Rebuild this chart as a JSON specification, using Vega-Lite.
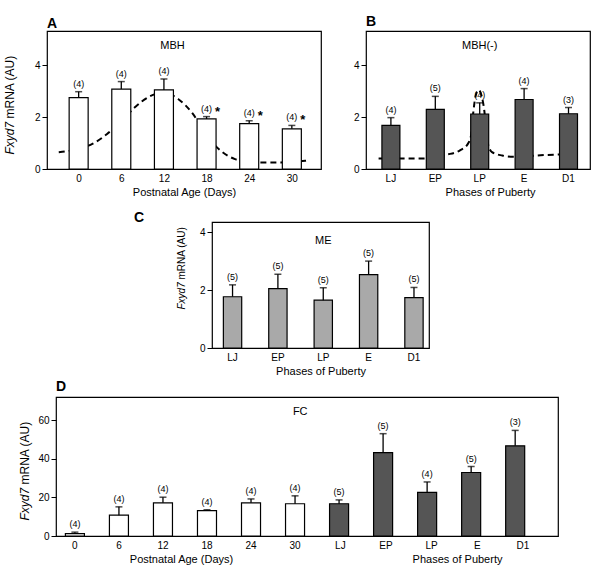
{
 "$schema": "https://vega.github.io/schema/vega-lite/v6.json",
 "padding": {"left": 0, "top": 14, "right": 5, "bottom": 5},
 "config": {
  "font": "Liberation Sans",
  "view": {"stroke": "#000", "strokeWidth": 1.2},
  "axis": {"labelFontSize": 10, "titleFontSize": 11, "titleFontWeight": "normal", "labelColor": "#000", "titleColor": "#000", "tickColor": "#000", "domain": false, "grid": false, "tickSize": 5, "tickWidth": 1},
  "title": {"fontSize": 14, "fontWeight": "bold", "anchor": "start", "frame": "group", "color": "#000", "offset": 3},
  "text": {"color": "#000"}
 },
 "datasets": {
  "aBars": [
   {"day": 0, "mean": 2.75, "err": 2.98, "n": "(4)", "star": ""},
   {"day": 6, "mean": 3.08, "err": 3.37, "n": "(4)", "star": ""},
   {"day": 12, "mean": 3.05, "err": 3.47, "n": "(4)", "star": ""},
   {"day": 18, "mean": 1.93, "err": 2.02, "n": "(4)", "star": "*"},
   {"day": 24, "mean": 1.75, "err": 1.86, "n": "(4)", "star": "*"},
   {"day": 30, "mean": 1.55, "err": 1.68, "n": "(4)", "star": "*"}
  ],
  "aLine": [
   {"day": -2.8, "v": 0.65}, {"day": 0, "v": 0.78}, {"day": 2, "v": 0.98}, {"day": 4, "v": 1.35},
   {"day": 6, "v": 1.85}, {"day": 8, "v": 2.4}, {"day": 10, "v": 2.8}, {"day": 12, "v": 2.95},
   {"day": 14, "v": 2.7}, {"day": 16, "v": 2.15}, {"day": 18, "v": 1.3}, {"day": 20, "v": 0.7},
   {"day": 22, "v": 0.38}, {"day": 24, "v": 0.27}, {"day": 26, "v": 0.25}, {"day": 28, "v": 0.25},
   {"day": 30, "v": 0.27}, {"day": 32, "v": 0.32}
  ],
  "bBars": [
   {"phase": "LJ", "mean": 1.68, "err": 1.98, "n": "(4)"},
   {"phase": "EP", "mean": 2.3, "err": 2.8, "n": "(5)"},
   {"phase": "LP", "mean": 2.12, "err": 2.55, "n": "(4)"},
   {"phase": "E", "mean": 2.68, "err": 3.1, "n": "(4)"},
   {"phase": "D1", "mean": 2.13, "err": 2.37, "n": "(3)"}
  ],
  "bLine": [
   {"u": -0.28, "v": 0.4}, {"u": 0.5, "v": 0.4}, {"u": 0.9, "v": 0.42}, {"u": 1.25, "v": 0.55},
   {"u": 1.55, "v": 0.72}, {"u": 1.72, "v": 0.95}, {"u": 1.8, "v": 1.3}, {"u": 1.85, "v": 2.2},
   {"u": 1.9, "v": 2.8}, {"u": 1.97, "v": 3.05}, {"u": 2.04, "v": 2.8}, {"u": 2.1, "v": 2.2},
   {"u": 2.16, "v": 1.1}, {"u": 2.27, "v": 0.65}, {"u": 2.5, "v": 0.52}, {"u": 2.75, "v": 0.47},
   {"u": 3.0, "v": 0.48}, {"u": 3.36, "v": 0.53}, {"u": 3.8, "v": 0.56}, {"u": 4.2, "v": 0.58}
  ],
  "cBars": [
   {"phase": "LJ", "mean": 1.77, "err": 2.18, "n": "(5)"},
   {"phase": "EP", "mean": 2.05, "err": 2.55, "n": "(5)"},
   {"phase": "LP", "mean": 1.65, "err": 2.08, "n": "(5)"},
   {"phase": "E", "mean": 2.53, "err": 3.0, "n": "(5)"},
   {"phase": "D1", "mean": 1.74, "err": 2.09, "n": "(5)"}
  ],
  "dBars": [
   {"cat": "0", "grp": "age", "mean": 1.2, "err": 2.0, "n": "(4)"},
   {"cat": "6", "grp": "age", "mean": 10.8, "err": 15.1, "n": "(4)"},
   {"cat": "12", "grp": "age", "mean": 17.2, "err": 20.1, "n": "(4)"},
   {"cat": "18", "grp": "age", "mean": 13.1, "err": 13.6, "n": "(4)"},
   {"cat": "24", "grp": "age", "mean": 17.2, "err": 19.2, "n": "(4)"},
   {"cat": "30", "grp": "age", "mean": 16.7, "err": 20.8, "n": "(4)"},
   {"cat": "LJ", "grp": "phase", "mean": 16.7, "err": 18.7, "n": "(5)"},
   {"cat": "EP", "grp": "phase", "mean": 43.2, "err": 53.0, "n": "(5)"},
   {"cat": "LP", "grp": "phase", "mean": 22.6, "err": 28.0, "n": "(4)"},
   {"cat": "E", "grp": "phase", "mean": 32.9, "err": 36.0, "n": "(5)"},
   {"cat": "D1", "grp": "phase", "mean": 46.7, "err": 54.7, "n": "(3)"}
  ]
 },
 "spacing": 2,
 "vconcat": [
  {
   "spacing": 11,
   "vconcat": [
    {
     "bounds": "flush",
     "spacing": 0,
     "hconcat": [
      {"width": 47, "height": 10, "data": {"values": [{"a": 1}]}, "mark": {"type": "point", "opacity": 0}, "encoding": {}, "view": {"stroke": null}},
      {
       "title": {"text": "A", "offset": 0},
       "width": 274, "height": 138,
       "layer": [
        {
         "layer": [
          {"data": {"name": "aLine"}, "mark": {"type": "line", "color": "#000", "strokeWidth": 2, "strokeDash": [6, 4], "interpolate": "monotone"},
           "encoding": {
            "x": {"field": "day", "type": "quantitative", "scale": {"domain": [-3.75, 33.4], "nice": false, "zero": false},
                  "axis": {"orient": "bottom", "values": [0, 6, 12, 18, 24, 30], "ticks": false, "tickSize": 0, "labelPadding": 4, "title": "Postnatal Age (Days)", "titlePadding": 3}},
            "y": {"field": "v", "type": "quantitative", "scale": {"domain": [0, 5.32], "nice": false, "zero": false},
                  "axis": {"orient": "left", "values": [0, 1, 2, 3, 4], "title": "Fxyd7", "titleFontStyle": "italic", "titleFontSize": 12, "titleAngle": -90, "titleAlign": "left", "titleBaseline": "bottom", "titleX": -31, "titleY": 123}}
           }},
          {"data": {"name": "aBars"}, "mark": {"type": "bar", "fill": "#fff", "stroke": "#000", "strokeWidth": 1.2, "width": 19},
           "encoding": {"x": {"field": "day", "type": "quantitative"}, "y": {"field": "mean", "type": "quantitative"}}},
          {"data": {"name": "aBars"}, "mark": {"type": "rule", "color": "#000", "strokeWidth": 1.3},
           "encoding": {"x": {"field": "day", "type": "quantitative"}, "y": {"field": "mean", "type": "quantitative"}, "y2": {"field": "err"}}},
          {"data": {"name": "aBars"}, "mark": {"type": "tick", "orient": "horizontal", "color": "#000", "size": 7, "thickness": 1.5},
           "encoding": {"x": {"field": "day", "type": "quantitative"}, "y": {"field": "err", "type": "quantitative"}}},
          {"data": {"name": "aBars"}, "mark": {"type": "text", "fontSize": 9, "baseline": "bottom", "dy": -3},
           "encoding": {"x": {"field": "day", "type": "quantitative"}, "y": {"field": "err", "type": "quantitative"}, "text": {"field": "n"}}},
          {"data": {"name": "aBars"}, "mark": {"type": "text", "fontSize": 13, "fontWeight": "bold", "baseline": "alphabetic", "dy": -1, "dx": 11},
           "encoding": {"x": {"field": "day", "type": "quantitative"}, "y": {"field": "err", "type": "quantitative"}, "text": {"field": "star"}}}
         ]
        },
        {"data": {"values": [{"label": "MBH"}]}, "mark": {"type": "text", "fontSize": 11},
         "encoding": {
          "x": {"datum": 13.2, "type": "quantitative"},
          "y": {"datum": 4.74, "type": "quantitative", "scale": {"domain": [0, 5.32], "nice": false, "zero": false},
                "axis": {"orient": "left", "labels": false, "ticks": false, "domain": false, "title": "mRNA (AU)", "titleFontSize": 12, "titleAngle": -90, "titleAlign": "left", "titleBaseline": "bottom", "titleX": -31, "titleY": 87}},
          "text": {"field": "label"}
         }}
       ],
       "resolve": {"scale": {"y": "independent"}}
      },
      {"width": 44.7, "height": 10, "data": {"values": [{"a": 1}]}, "mark": {"type": "point", "opacity": 0}, "encoding": {}, "view": {"stroke": null}},
      {
       "title": {"text": "B", "offset": 2},
       "width": 224, "height": 138,
       "layer": [
        {"data": {"name": "bLine"}, "mark": {"type": "line", "color": "#000", "strokeWidth": 2, "strokeDash": [6, 4], "interpolate": "monotone"},
         "encoding": {
          "x": {"field": "u", "type": "quantitative", "scale": {"domain": [-0.563, 4.473], "nice": false, "zero": false}, "axis": null},
          "y": {"field": "v", "type": "quantitative", "scale": {"domain": [0, 5.32], "nice": false, "zero": false}, "axis": {"orient": "left", "values": [0, 1, 2, 3, 4], "title": null}}
         }},
        {
         "layer": [
          {"data": {"name": "bBars"}, "mark": {"type": "bar", "fill": "#555555", "stroke": "#000", "strokeWidth": 1.2},
           "encoding": {
            "x": {"field": "phase", "type": "nominal", "sort": null, "scale": {"domain": ["LJ", "EP", "LP", "E", "D1"], "paddingInner": 0.595, "paddingOuter": 0.32, "align": 0.56},
                  "axis": {"orient": "bottom", "labelAngle": 0, "ticks": false, "tickSize": 0, "labelPadding": 4, "title": "Phases of Puberty", "titleX": 124, "titleAlign": "center", "titlePadding": 3}},
            "y": {"field": "mean", "type": "quantitative"}
           }},
          {"data": {"name": "bBars"}, "mark": {"type": "rule", "color": "#000", "strokeWidth": 1.3},
           "encoding": {"x": {"field": "phase", "type": "nominal"}, "y": {"field": "mean", "type": "quantitative"}, "y2": {"field": "err"}}},
          {"data": {"name": "bBars"}, "mark": {"type": "tick", "color": "#000", "size": 7, "thickness": 1.5},
           "encoding": {"x": {"field": "phase", "type": "nominal"}, "y": {"field": "err", "type": "quantitative"}}},
          {"data": {"name": "bBars"}, "mark": {"type": "text", "fontSize": 9, "baseline": "bottom", "dy": -3},
           "encoding": {"x": {"field": "phase", "type": "nominal"}, "y": {"field": "err", "type": "quantitative"}, "text": {"field": "n"}}},
          {"data": {"values": [{"label": "MBH(-)"}]}, "mark": {"type": "text", "fontSize": 11},
           "encoding": {"x": {"datum": "LP", "type": "nominal"}, "y": {"datum": 4.74, "type": "quantitative"}, "text": {"field": "label"}}}
         ]
        }
       ],
       "resolve": {"scale": {"x": "independent"}}
      }
     ]
    },
    {
     "bounds": "flush",
     "spacing": 0,
     "hconcat": [
      {"width": 211.7, "height": 10, "data": {"values": [{"a": 1}]}, "mark": {"type": "point", "opacity": 0}, "encoding": {}, "view": {"stroke": null}},
      {
       "title": {"text": "C", "offset": -2.5, "dx": -78},
       "width": 217, "height": 126,
       "layer": [
        {
         "data": {"name": "cBars"},
         "layer": [
          {"mark": {"type": "bar", "fill": "#a9a9a9", "stroke": "#000", "strokeWidth": 1.2},
           "encoding": {
            "x": {"field": "phase", "type": "nominal", "sort": null, "scale": {"domain": ["LJ", "EP", "LP", "E", "D1"], "paddingInner": 0.596, "paddingOuter": 0.19, "align": 0.66},
                  "axis": {"orient": "bottom", "labelAngle": 0, "ticks": false, "tickSize": 0, "labelPadding": 4, "title": "Phases of Puberty", "titlePadding": 3}},
            "y": {"field": "mean", "type": "quantitative", "scale": {"domain": [0, 4.35], "nice": false, "zero": false},
                  "axis": {"orient": "left", "values": [0, 1, 2, 3, 4], "title": "Fxyd7", "titleFontStyle": "italic", "titleFontSize": 10, "titleAngle": -90, "titleAlign": "left", "titleBaseline": "bottom", "titleX": -26, "titleY": 87}}
           }},
          {"mark": {"type": "rule", "color": "#000", "strokeWidth": 1.3},
           "encoding": {"x": {"field": "phase", "type": "nominal"}, "y": {"field": "mean", "type": "quantitative"}, "y2": {"field": "err"}}},
          {"mark": {"type": "tick", "color": "#000", "size": 7, "thickness": 1.5},
           "encoding": {"x": {"field": "phase", "type": "nominal"}, "y": {"field": "err", "type": "quantitative"}}},
          {"mark": {"type": "text", "fontSize": 9, "baseline": "bottom", "dy": -3},
           "encoding": {"x": {"field": "phase", "type": "nominal"}, "y": {"field": "err", "type": "quantitative"}, "text": {"field": "n"}}}
         ]
        },
        {"data": {"values": [{"label": "ME"}]}, "mark": {"type": "text", "fontSize": 11},
         "encoding": {
          "x": {"datum": "LP", "type": "nominal"},
          "y": {"datum": 3.69, "type": "quantitative", "scale": {"domain": [0, 4.35], "nice": false, "zero": false},
                "axis": {"orient": "left", "labels": false, "ticks": false, "domain": false, "title": "mRNA (AU)", "titleFontSize": 10, "titleAngle": -90, "titleAlign": "left", "titleBaseline": "bottom", "titleX": -26, "titleY": 57}},
          "text": {"field": "label"}
         }}
       ],
       "resolve": {"scale": {"y": "independent"}}
      }
     ]
    }
   ]
  },
  {
   "bounds": "flush",
   "spacing": 0,
   "hconcat": [
    {"width": 56, "height": 10, "data": {"values": [{"a": 1}]}, "mark": {"type": "point", "opacity": 0}, "encoding": {}, "view": {"stroke": null}},
    {
     "title": {"text": "D", "offset": 3},
     "width": 502, "height": 139,
     "layer": [
      {
       "data": {"name": "dBars"},
       "layer": [
        {"mark": {"type": "bar", "stroke": "#000", "strokeWidth": 1.2},
         "encoding": {
          "x": {"field": "cat", "type": "nominal", "sort": null, "scale": {"domain": ["0", "6", "12", "18", "24", "30", "LJ", "EP", "LP", "E", "D1"], "paddingInner": 0.568, "paddingOuter": 0.485, "align": 0.22},
                "axis": {"orient": "bottom", "values": ["0", "6", "12", "18", "24", "30"], "labelAngle": 0, "ticks": false, "tickSize": 0, "labelPadding": 4, "title": "Postnatal Age (Days)", "titleX": 125, "titleAlign": "center", "titlePadding": 3}},
          "y": {"field": "mean", "type": "quantitative", "scale": {"domain": [0, 72], "nice": false, "zero": false},
                "axis": {"orient": "left", "values": [0, 20, 40, 60], "title": "Fxyd7", "titleFontStyle": "italic", "titleFontSize": 12, "titleAngle": -90, "titleAlign": "left", "titleBaseline": "bottom", "titleX": -25, "titleY": 123}},
          "color": {"field": "grp", "type": "nominal", "scale": {"domain": ["age", "phase"], "range": ["#ffffff", "#555555"]}, "legend": null}
         }},
        {"mark": {"type": "rule", "color": "#000", "strokeWidth": 1.3},
         "encoding": {"x": {"field": "cat", "type": "nominal"}, "y": {"field": "mean", "type": "quantitative"}, "y2": {"field": "err"}}},
        {"mark": {"type": "tick", "color": "#000", "size": 7, "thickness": 1.5},
         "encoding": {"x": {"field": "cat", "type": "nominal"}, "y": {"field": "err", "type": "quantitative"}}},
        {"mark": {"type": "text", "fontSize": 9, "baseline": "bottom", "dy": -3},
         "encoding": {"x": {"field": "cat", "type": "nominal"}, "y": {"field": "err", "type": "quantitative"}, "text": {"field": "n"}}}
       ]
      },
      {"data": {"values": [{"label": "FC"}]}, "mark": {"type": "text", "fontSize": 11, "dx": 6},
       "encoding": {
        "x": {"datum": "30", "type": "nominal", "scale": {"domain": ["0", "6", "12", "18", "24", "30", "LJ", "EP", "LP", "E", "D1"], "paddingInner": 0.568, "paddingOuter": 0.485, "align": 0.22},
              "axis": {"orient": "bottom", "values": ["LJ", "EP", "LP", "E", "D1"], "labelAngle": 0, "ticks": false, "tickSize": 0, "labelPadding": 4, "title": "Phases of Puberty", "titleX": 401, "titleAlign": "center", "titlePadding": 3}},
        "y": {"datum": 64.3, "type": "quantitative", "scale": {"domain": [0, 72], "nice": false, "zero": false},
              "axis": {"orient": "left", "labels": false, "ticks": false, "domain": false, "title": "mRNA (AU)", "titleFontSize": 12, "titleAngle": -90, "titleAlign": "left", "titleBaseline": "bottom", "titleX": -25, "titleY": 87}},
        "text": {"field": "label"}
       }}
     ],
     "resolve": {"scale": {"x": "independent", "y": "independent"}}
    }
   ]
  }
 ]
}
